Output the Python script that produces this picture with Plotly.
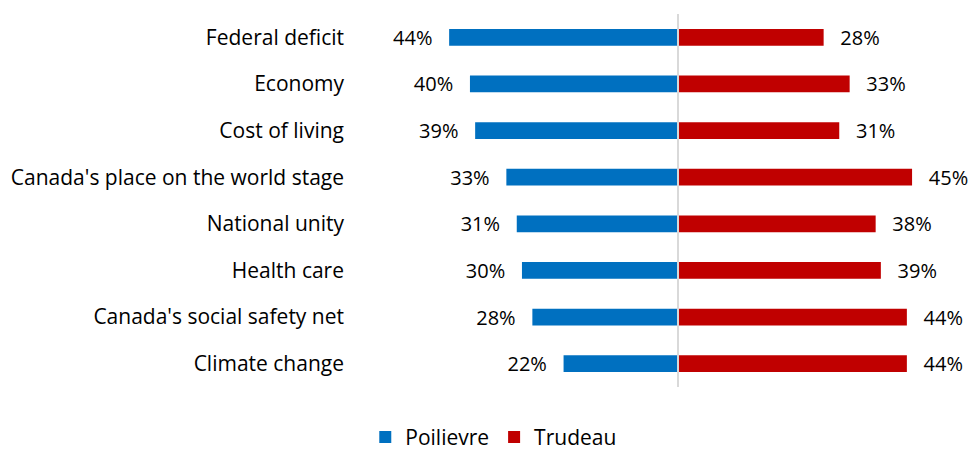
import plotly.graph_objects as go

categories = ["Federal deficit", "Economy", "Cost of living",
              "Canada's place on the world stage", "National unity",
              "Health care", "Canada's social safety net", "Climate change"]
poilievre = [44, 40, 39, 33, 31, 30, 28, 22]
trudeau = [28, 33, 31, 45, 38, 39, 44, 44]

FONT = "Open Sans"
FS = 20
PAD = "\u2009  "
fig = go.Figure()
fig.add_trace(go.Bar(
    y=categories, x=[-v for v in poilievre], orientation="h", name="Poilievre",
    marker=dict(color="#0070C0", line=dict(width=0)),
    text=[f"{v}%{PAD}" for v in poilievre], textposition="outside",
    constraintext="none", hoverinfo="skip",
    textfont=dict(color="#000000", size=FS, family=FONT), cliponaxis=False,
))
fig.add_trace(go.Bar(
    y=categories, x=trudeau, orientation="h", name="Trudeau",
    marker=dict(color="#C00000", line=dict(width=0)),
    text=[f"{PAD}{v}%" for v in trudeau], textposition="outside",
    constraintext="none", hoverinfo="skip",
    textfont=dict(color="#000000", size=FS, family=FONT), cliponaxis=False,
))
fig.add_shape(type="line", xref="x", yref="paper", x0=0, x1=0, y0=0, y1=1,
              line=dict(color="#D9D9D9", width=2))
fig.update_layout(
    width=972, height=451, barmode="relative", bargap=0.64,
    margin=dict(l=355, r=10, t=14, b=64, autoexpand=False),
    plot_bgcolor="white", paper_bgcolor="white",
    font=dict(family=FONT, size=FS, color="#000000"),
    xaxis=dict(range=[-62.1, 54.6], visible=False, fixedrange=True),
    yaxis=dict(autorange="reversed", showgrid=False, zeroline=False, fixedrange=True,
               ticks="", ticklabelstandoff=10, tickfont=dict(size=21, color="#000000")),
    legend=dict(orientation="h", xref="container", yref="paper",
                x=0.508, xanchor="center", y=-0.135, yanchor="middle",
                font=dict(size=21), itemwidth=30, traceorder="normal",
                tracegroupgap=0),
)
fig.write_html("out.html", config={"displayModeBar": False},
               post_script="document.body.style.margin='0';document.body.style.overflow='hidden';")
